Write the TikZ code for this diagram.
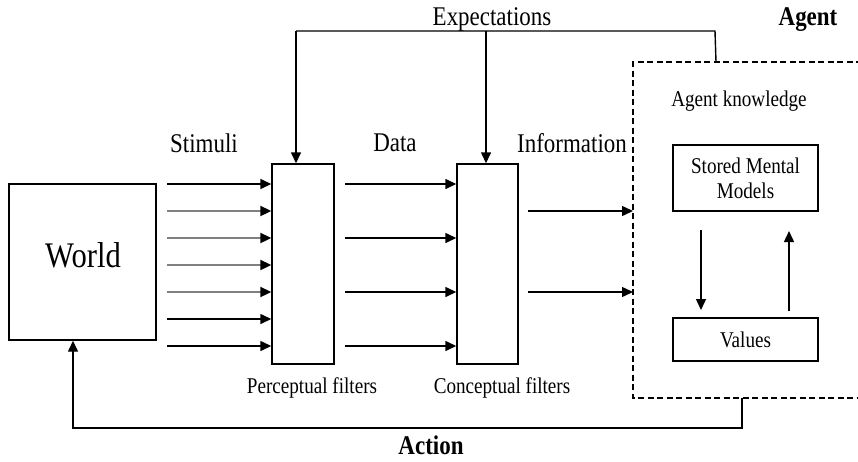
\documentclass[tikz,border=0pt]{standalone}
\usepackage{fontspec}
\setmainfont{Liberation Serif}[FakeStretch=0.85]
\usetikzlibrary{arrows.meta}
\begin{document}
\begin{tikzpicture}[x=1pt,y=-1pt,
  ln/.style={line width=1.4pt},
  arr/.style={ln,-{Triangle[length=11pt,width=10pt]}},
  grayarr/.style={line width=2pt,draw=black!50,-{Triangle[length=11pt,width=10pt,color=black]}},
  box/.style={draw,line width=1.4pt,inner sep=0pt},
  big/.style={font=\fontsize{27}{32}\selectfont,inner sep=0pt},
  small/.style={font=\fontsize{22.5}{25}\selectfont,inner sep=0pt,align=center},
  dashedbox/.style={line width=1.4pt,dash pattern=on 6pt off 3.5pt}]
\useasboundingbox (0,0) rectangle (858,461);
% boxes
\node[box,minimum width=147pt,minimum height=156pt] (world) at (82.5,262) {};
\node[inner sep=0pt,font=\fontsize{36}{40}\selectfont] (worldtxt) at (83,255) {World};
\node[box,minimum width=62pt,minimum height=200pt] (perc) at (303,264) {};
\node[box,minimum width=61pt,minimum height=200pt] (conc) at (487.5,264) {};
\node[box,minimum width=145pt,minimum height=66pt,small] (smm) at (745.5,178) {Stored Mental\\Models};
\node[box,minimum width=145pt,minimum height=43pt,small] (val) at (745.5,339.5) {Values};
% labels
\node[big] (stim) at (204,143) {Stimuli};
\node[big] (data) at (395,143) {Data};
\node[big] (info) at (572,143) {Information};
\node[big] (expt) at (492,19) {Expectations};
\node[big,font=\fontsize{27}{32}\selectfont\bfseries] (agent) at (808,20) {Agent};
\node[big,font=\fontsize{27}{32}\selectfont\bfseries] (action) at (431,445) {Action};
\node[small] (aknow) at (739,101) {Agent knowledge};
\node[small] (plab) at (312,388) {Perceptual filters};
\node[small] (clab) at (502,388) {Conceptual filters};
% dashed agent box
\coordinate (d1) at (862,62);
\coordinate (d2) at (633,62);
\coordinate (d3) at (633,398);
\coordinate (d4) at (862,398);
\draw[dashedbox] (d1) -- (d2) -- (d3) -- (d4);
% stimuli arrows
\foreach \y/\s in {184/arr,211/grayarr,238/grayarr,265/grayarr,292/grayarr,319/arr,346/arr}{
  \coordinate (s\y) at (167,\y);
  \draw[\s] (s\y) -- (s\y -| perc.west);
}
% data arrows
\foreach \y in {184,238,292,346}{
  \coordinate (t\y) at (345,\y);
  \draw[arr] (t\y) -- (t\y -| conc.west);
}
% information arrows
\foreach \y in {211,292}{
  \coordinate (i\y) at (528,\y);
  \draw[arr] (i\y) -- (i\y -| d3);
}
% expectations
\coordinate (e0) at (716,62);
\coordinate (e1) at (715,31);
\coordinate (e2) at (296,31);
\coordinate (e3) at (486,31);
\draw[ln] (e0) -- (e1) -- (e2);
\draw[arr] (e2) -- (e2 |- perc.north);
\draw[arr] (e3) -- (e3 |- conc.north);
% action
\coordinate (a0) at (742,398);
\coordinate (a1) at (742,428);
\coordinate (a2) at (73,428);
\draw[arr] (a0) -- (a1) -- (a2) -- (a2 |- world.south);
% internal arrows
\coordinate (m1) at (701,230);
\coordinate (m2) at (701,310);
\coordinate (m3) at (789,311);
\coordinate (m4) at (789,231);
\draw[arr] (m1) -- (m2);
\draw[arr] (m3) -- (m4);
\end{tikzpicture}
\end{document}
